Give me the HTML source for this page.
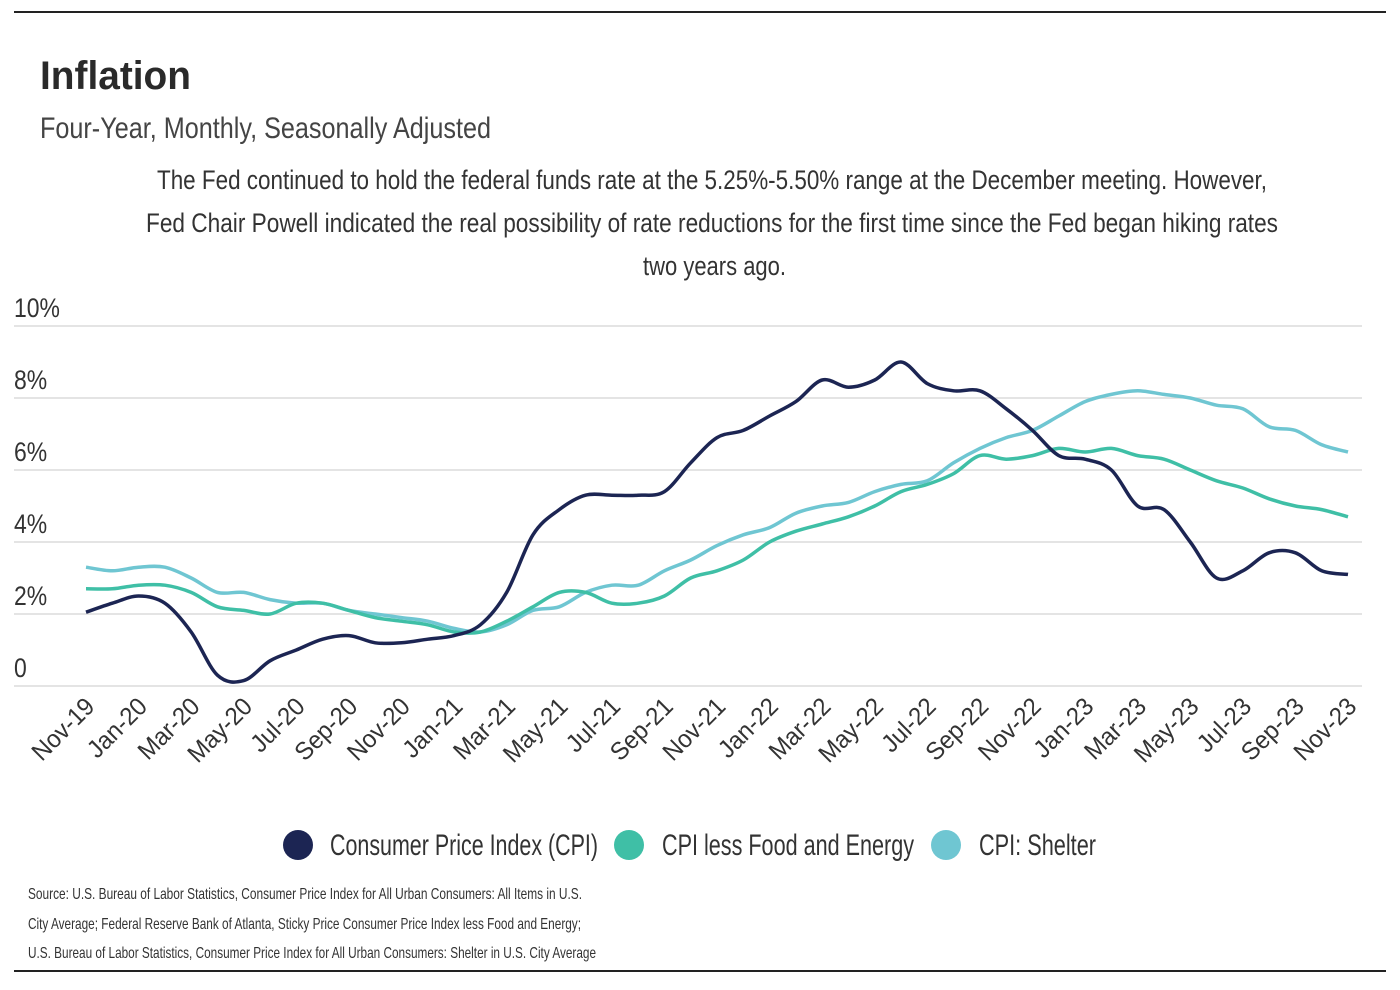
<!DOCTYPE html>
<html><head><meta charset="utf-8"><style>
body{margin:0;background:#fff;}
svg{display:block;font-family:"Liberation Sans",sans-serif;}
</style></head><body>
<svg id="c" width="1400" height="990">
<line x1="14" y1="12" x2="1386" y2="12" stroke="#222" stroke-width="2"/>
<line x1="14" y1="971" x2="1386" y2="971" stroke="#222" stroke-width="2"/>
<text x="40" y="89" font-size="40" font-weight="bold" fill="#2a2a2a" textLength="151" lengthAdjust="spacingAndGlyphs">Inflation</text>
<text x="40" y="138" font-size="30" fill="#444" textLength="451" lengthAdjust="spacingAndGlyphs">Four-Year, Monthly, Seasonally Adjusted</text>
<g font-size="27" fill="#333">
<text x="157" y="189" textLength="1110" lengthAdjust="spacingAndGlyphs">The Fed continued to hold the federal funds rate at the 5.25%-5.50% range at the December meeting. However,</text>
<text x="146" y="232" textLength="1132" lengthAdjust="spacingAndGlyphs">Fed Chair Powell indicated the real possibility of rate reductions for the first time since the Fed began hiking rates</text>
<text x="643" y="275" textLength="143" lengthAdjust="spacingAndGlyphs">two years ago.</text>
</g>
<g id="grid"></g><g id="xl"></g><g id="lines"></g>
<g font-size="30" fill="#333">
<circle cx="298" cy="845" r="15" fill="#1c2553"/>
<text x="330" y="855" textLength="268" lengthAdjust="spacingAndGlyphs">Consumer Price Index (CPI)</text>
<circle cx="629" cy="845" r="15" fill="#3fbfa6"/>
<text x="662" y="855" textLength="252" lengthAdjust="spacingAndGlyphs">CPI less Food and Energy</text>
<circle cx="946" cy="845" r="15" fill="#6fc6d2"/>
<text x="979" y="855" textLength="117" lengthAdjust="spacingAndGlyphs">CPI: Shelter</text>
</g>
<g font-size="16" fill="#333">
<text x="28" y="899" textLength="554" lengthAdjust="spacingAndGlyphs">Source:  U.S. Bureau of Labor Statistics, Consumer Price Index for All Urban Consumers: All Items in U.S.</text>
<text x="28" y="929" textLength="553" lengthAdjust="spacingAndGlyphs">City Average; Federal Reserve Bank of Atlanta, Sticky Price Consumer Price Index less Food and Energy;</text>
<text x="28" y="958" textLength="568" lengthAdjust="spacingAndGlyphs">U.S. Bureau of Labor Statistics, Consumer Price Index for All Urban Consumers: Shelter in U.S. City Average</text>
</g>
</svg>
<script>
const months=["Nov-19","Dec-19","Jan-20","Feb-20","Mar-20","Apr-20","May-20","Jun-20","Jul-20","Aug-20","Sep-20","Oct-20","Nov-20","Dec-20","Jan-21","Feb-21","Mar-21","Apr-21","May-21","Jun-21","Jul-21","Aug-21","Sep-21","Oct-21","Nov-21","Dec-21","Jan-22","Feb-22","Mar-22","Apr-22","May-22","Jun-22","Jul-22","Aug-22","Sep-22","Oct-22","Nov-22","Dec-22","Jan-23","Feb-23","Mar-23","Apr-23","May-23","Jun-23","Jul-23","Aug-23","Sep-23","Oct-23","Nov-23"];
const cpi=[2.05,2.3,2.5,2.3,1.5,0.3,0.15,0.7,1.0,1.3,1.4,1.2,1.2,1.3,1.4,1.7,2.6,4.2,4.9,5.3,5.3,5.3,5.4,6.2,6.9,7.1,7.5,7.9,8.5,8.3,8.5,9.0,8.4,8.2,8.2,7.7,7.1,6.4,6.3,6.0,5.0,4.9,4.0,3.0,3.2,3.7,3.7,3.2,3.1];
const core=[2.7,2.7,2.8,2.8,2.6,2.2,2.1,2.0,2.3,2.3,2.1,1.9,1.8,1.7,1.5,1.5,1.8,2.2,2.6,2.6,2.3,2.3,2.5,3.0,3.2,3.5,4.0,4.3,4.5,4.7,5.0,5.4,5.6,5.9,6.4,6.3,6.4,6.6,6.5,6.6,6.4,6.3,6.0,5.7,5.5,5.2,5.0,4.9,4.7];
const shelter=[3.3,3.2,3.3,3.3,3.0,2.6,2.6,2.4,2.3,2.3,2.1,2.0,1.9,1.8,1.6,1.5,1.7,2.1,2.2,2.6,2.8,2.8,3.2,3.5,3.9,4.2,4.4,4.8,5.0,5.1,5.4,5.6,5.7,6.2,6.6,6.9,7.1,7.5,7.9,8.1,8.2,8.1,8.0,7.8,7.7,7.2,7.1,6.7,6.5];
const yTicks=[0,2,4,6,8,10];
const yTickLabels=["0","2%","4%","6%","8%","10%"];
const NS="http://www.w3.org/2000/svg";
const x=i=>86+i*(1348-86)/(months.length-1);
const y=v=>686-v*36;
const grid=document.getElementById('grid');
yTicks.forEach((t,k)=>{
  const l=document.createElementNS(NS,'line');
  l.setAttribute('x1',14);l.setAttribute('x2',1362);l.setAttribute('y1',y(t));l.setAttribute('y2',y(t));
  l.setAttribute('stroke','#d4d4d4');l.setAttribute('stroke-width','1.2');
  
  
  grid.appendChild(l);
  const tx=document.createElementNS(NS,'text');
  tx.setAttribute('transform',`translate(14 ${y(t)-9}) scale(0.85 1)`);
  tx.setAttribute('font-size','27');tx.setAttribute('fill','#333');
  tx.textContent=yTickLabels[k];
  
  
  grid.appendChild(tx);
});
const xl=document.getElementById('xl');
months.forEach((m,i)=>{
  if(i%2) return;
  const tx=document.createElementNS(NS,'text');
  const px=x(i)+10, py=708;
  tx.setAttribute('transform',`translate(${px} ${py}) rotate(-45) scale(0.95 1)`);
  tx.setAttribute('text-anchor','end');tx.setAttribute('font-size','25');tx.setAttribute('fill','#333');
  tx.textContent=m;
  
  
  xl.appendChild(tx);
});
function path(vals){
  const p=vals.map((v,i)=>[x(i),y(v)]);
  let d=`M${p[0][0]},${p[0][1]}`;
  for(let i=0;i<p.length-1;i++){
    const p0=p[i-1]||p[i],p1=p[i],p2=p[i+1],p3=p[i+2]||p2;
    d+=` C${p1[0]+(p2[0]-p0[0])/6},${p1[1]+(p2[1]-p0[1])/6} ${p2[0]-(p3[0]-p1[0])/6},${p2[1]-(p3[1]-p1[1])/6} ${p2[0]},${p2[1]}`;
  }
  return d;
}
const lines=document.getElementById('lines');
[[shelter,'#6fc6d2','shelter-line'],[core,'#3fbfa6','core-cpi-line'],[cpi,'#1c2553','cpi-line']].forEach(([v,c,n])=>{
  const p=document.createElementNS(NS,'path');
  p.setAttribute('d',path(v));p.setAttribute('fill','none');p.setAttribute('stroke',c);p.setAttribute('stroke-width','3.5');
  p.setAttribute('stroke-linejoin','round');
  
  
  lines.appendChild(p);
});
</script>
</body></html>
